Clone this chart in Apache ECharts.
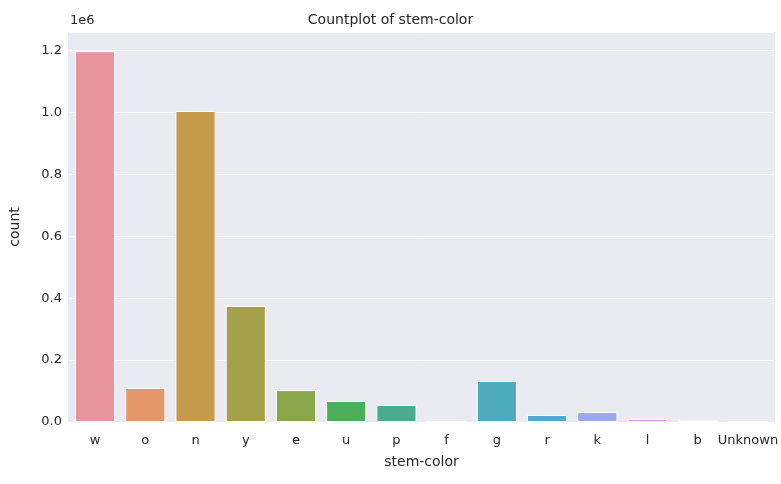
<!DOCTYPE html><html><head><meta charset="utf-8"><script src="https://cdn.jsdelivr.net/npm/echarts@6/dist/echarts.min.js"></script></head><body style="margin:0;background:#fff"><div id="c" style="width:781px;height:484px"></div><script>
const categories=['w','o','n','y','e','u','p','f','g','r','k','l','b','Unknown'];
const counts=[1198000,110000,1005000,375000,103000,68000,55000,1500,133000,23000,32000,10000,7000,3000];
const colors=['#e8959f','#e6976a','#c39b4a','#a7a04a','#89a64a','#4cad5a','#4bab8e','#4caca6','#4eabbc','#52a8d2','#9ba8ea','#cf98e6','#e592d4','#ea94b4'];
const yTicks=[0,0.2,0.4,0.6,0.8,1.0,1.2];
const ch=echarts.init(document.getElementById('c'));
const font='DejaVu Sans';
ch.setOption({
 textStyle:{fontFamily:font},
 title:{text:'Countplot of stem-color',left:'center',top:8,textStyle:{fontFamily:font,fontSize:14,fontWeight:'normal',color:'#262626'}},
 graphic:[{type:'rect',shape:{x:68,y:32,width:707,height:390},style:{fill:'#eaeaf2'},z:-10},
  {type:'text',left:70,top:14,style:{text:'1e6',font:'13px DejaVu Sans',fill:'#262626'}}],
 grid:{left:68,right:6,top:32,bottom:62},
 xAxis:{type:'category',data:categories,name:'stem-color',nameLocation:'middle',nameGap:33,nameTextStyle:{fontSize:14,color:'#262626'},
  axisLine:{show:false},axisTick:{show:false},axisLabel:{color:'#262626',fontSize:13,margin:12,interval:0}},
 yAxis:{type:'value',min:0,max:1260000,interval:200000,name:'count',nameLocation:'middle',nameGap:48,nameTextStyle:{fontSize:14,color:'#262626'},
  axisLine:{show:false},axisTick:{show:false},splitLine:{lineStyle:{color:'#fff',width:1}},
  axisLabel:{color:'#262626',fontSize:13,formatter:v=>{const t=v/1e6;return yTicks.some(x=>Math.abs(x-t)<1e-9)?t.toFixed(1):''}}},
 series:[{type:'bar',barWidth:'80%',data:counts.map((v,i)=>({value:v,itemStyle:{color:colors[i]}})),itemStyle:{borderColor:'#fff',borderWidth:1}}]
});
</script></body></html>
